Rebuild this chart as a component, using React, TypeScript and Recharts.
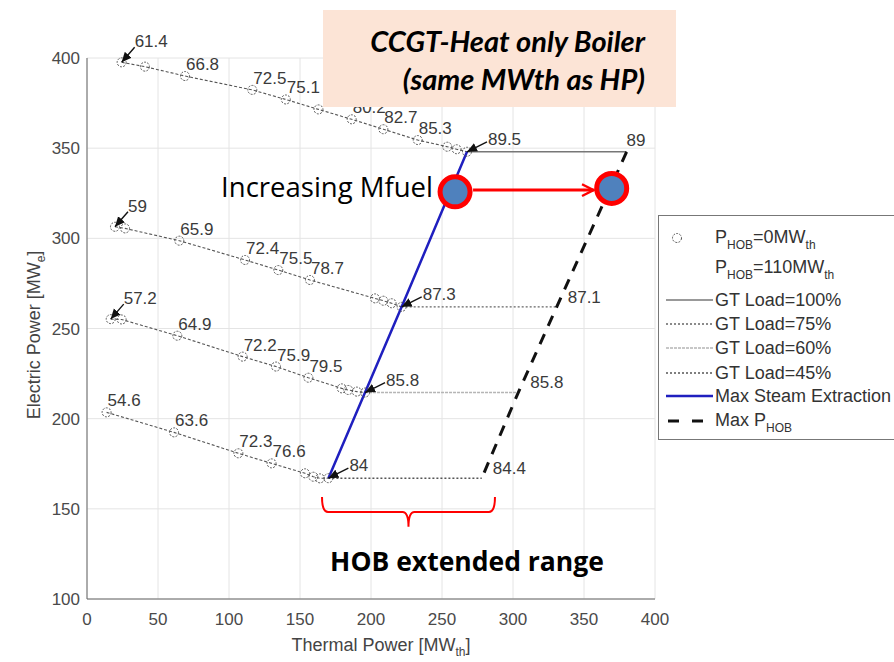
import React from 'react';
import {
  ComposedChart, Line, XAxis, YAxis, CartesianGrid,
  ReferenceDot, ReferenceLine, ReferenceArea,
} from 'recharts';

const FONT = '"Liberation Sans", Arial, sans-serif';

const xTicks = [0, 50, 100, 150, 200, 250, 300, 350, 400];
const yTicks = [100, 150, 200, 250, 300, 350, 400];

// P_HOB = 0 operating curves: thermal [MWth], electric [MWe], efficiency label
const gt100Th = [24.4, 40.8, 69, 116.4, 140, 163, 186.4, 208.7, 232.9, 253.7, 260.3, 267.6];
const gt100El = [397.6, 395.2, 390, 382.3, 377, 371.5, 366, 360.5, 354.5, 350.8, 349.4, 348];
const gt100Lbl = ['61.4', '', '66.8', '72.5', '75.1', '', '80.2', '82.7', '85.3', '', '', '89.5'];

const gt75Th = [19.7, 26.8, 65, 111.3, 134.7, 157, 202.8, 208.7, 214.5, 221.6];
const gt75El = [306.4, 305.5, 298.7, 288, 282.4, 276.9, 266.7, 265.4, 264, 262];
const gt75Lbl = ['59', '', '65.9', '72.4', '75.5', '78.7', '', '', '', '87.3'];

const gt60Th = [16.7, 24.4, 63.6, 109.6, 133.1, 155.9, 179.4, 184, 190, 195.8];
const gt60El = [255.2, 255, 246, 234.4, 228.9, 222.7, 216.8, 215.9, 215, 214.5];
const gt60Lbl = ['57.2', '', '64.9', '72.2', '75.9', '79.5', '', '', '', '85.8'];

const gt45Th = [13.8, 61.3, 106.6, 130, 153.5, 159.4, 164, 170];
const gt45El = [203.5, 192.4, 180.8, 175.2, 169.7, 167.8, 166.9, 167];
const gt45Lbl = ['54.6', '63.6', '72.3', '76.6', '', '', '', '84'];

// HOB lines (P_HOB = 0 -> 110 MWth), order: GT 100, 75, 60, 45 %
const hobTh0 = [267.6, 221.6, 195.8, 170];
const hobTh110 = [380, 330.8, 303.7, 278];
const hobEl = [348, 262, 214.5, 167];
const hobLbl = ['89', '87.1', '85.8', '84.4'];

// annotation markers (increasing fuel)
const fuelTh = [259.2, 369.5];
const fuelEl = [325.8, 327.7];
const rangeTh = [165.5, 287.3];
const rangeEl = [140, 156.5];

const pts = (th: number[], el: number[], lbl?: string[]) =>
  th.map((x, i) => ({ x, y: el[i], label: lbl ? lbl[i] : '' }));

const curves = [
  { id: 'c100', data: pts(gt100Th, gt100El, gt100Lbl), firstArrow: true },
  { id: 'c75', data: pts(gt75Th, gt75El, gt75Lbl), firstArrow: true },
  { id: 'c60', data: pts(gt60Th, gt60El, gt60Lbl), firstArrow: true },
  { id: 'c45', data: pts(gt45Th, gt45El, gt45Lbl), firstArrow: false },
];

const hobStyles = [
  { stroke: '#777', dash: undefined, width: 1.6, dx: 0, dy: -6 },
  { stroke: '#666', dash: '2 2', width: 1.4, dx: 11, dy: -4 },
  { stroke: '#b5b5b5', dash: '3 1', width: 1.6, dx: 12, dy: -5 },
  { stroke: '#555', dash: '2 2', width: 1.4, dx: 11, dy: -4 },
];

const hobLines = hobEl.map((y, i) => [
  { x: hobTh0[i], y, label: '' },
  { x: hobTh110[i], y, label: hobLbl[i] },
]);

const steamLine = pts(hobTh0, hobEl);
const maxHobLine = pts(hobTh110, hobEl);

const curveDot = (n: number, firstArrow: boolean) => (p: any) => {
  const { cx, cy, index, payload } = p;
  const lbl = payload && payload.label;
  let tx = cx + 1, ty = cy - 6;
  let arrow: number[] | null = null;
  if (index === 0 && firstArrow) { tx = cx + 13; ty = cy - 15; arrow = [cx + 13, cy - 15]; }
  if (index === n - 1) { tx = cx + 21; ty = cy - 7; arrow = [cx + 20, cy - 10]; }
  return (
    <g key={`d${index}`}>
      <circle cx={cx} cy={cy} r={4.5} fill="none" stroke="#555" strokeWidth={1} strokeDasharray="2 1.3" />
      {arrow && lbl ? (
        <line x1={arrow[0]} y1={arrow[1]} x2={cx} y2={cy} stroke="#111" strokeWidth={1.4} markerEnd="url(#tipArrow)" />
      ) : null}
      {lbl ? (
        <text x={tx} y={ty} fontSize={17} fill="#3a3a3a" fontFamily={FONT}>{lbl}</text>
      ) : null}
    </g>
  );
};

const hobDot = (dx: number, dy: number) => (p: any) => {
  const { cx, cy, index, payload } = p;
  if (!payload || !payload.label) return <g key={`h${index}`} />;
  return (
    <text key={`h${index}`} x={cx + dx} y={cy + dy} fontSize={17} fill="#3a3a3a" fontFamily={FONT}>{payload.label}</text>
  );
};

const fuelArrow = (p: any) => {
  const { x1, y1, x2, y2 } = p;
  return <line x1={x1 + 18} y1={y1} x2={x2 - 18} y2={y2} stroke="#ff0000" strokeWidth={3} markerEnd="url(#redArrow)" />;
};

const brace = (p: any) => {
  const { x, y, width, height } = p;
  const x2 = x + width;
  const cx = x + width / 2;
  const mid = y + height * 0.5;
  const bot = y + height;
  const d = `M${x},${y} Q${x},${mid} ${x + 6},${mid} L${cx - 6},${mid} Q${cx},${mid} ${cx},${bot} Q${cx},${mid} ${cx + 6},${mid} L${x2 - 6},${mid} Q${x2},${mid} ${x2},${y}`;
  return <path d={d} fill="none" stroke="#ff0000" strokeWidth={2} />;
};

const Sub = ({ children }: { children: React.ReactNode }) => (
  <span style={{ fontSize: 12, position: 'relative', top: 6 }}>{children}</span>
);

const legendRows: { top: number; sample: React.ReactNode; text: React.ReactNode }[] = [
  {
    top: 22,
    sample: <circle cx={14} cy={10} r={4.5} fill="none" stroke="#555" strokeDasharray="2 1.3" />,
    text: <>P<Sub>HOB</Sub>=0MW<Sub>th</Sub></>,
  },
  { top: 52, sample: null, text: <>P<Sub>HOB</Sub>=110MW<Sub>th</Sub></> },
  { top: 84, sample: <line x1={3} y1={10} x2={50} y2={10} stroke="#777" strokeWidth={1.6} />, text: 'GT Load=100%' },
  { top: 108, sample: <line x1={3} y1={10} x2={50} y2={10} stroke="#666" strokeWidth={1.4} strokeDasharray="2 2" />, text: 'GT Load=75%' },
  { top: 132, sample: <line x1={3} y1={10} x2={50} y2={10} stroke="#b5b5b5" strokeWidth={1.6} strokeDasharray="3 1" />, text: 'GT Load=60%' },
  { top: 157, sample: <line x1={3} y1={10} x2={50} y2={10} stroke="#555" strokeWidth={1.4} strokeDasharray="2 2" />, text: 'GT Load=45%' },
  { top: 180, sample: <line x1={3} y1={10} x2={50} y2={10} stroke="#1f1fbf" strokeWidth={2.5} />, text: 'Max Steam Extraction' },
  { top: 205, sample: <line x1={5} y1={10} x2={50} y2={10} stroke="#111" strokeWidth={3} strokeDasharray="11 13" />, text: <>Max P<Sub>HOB</Sub></> },
];

export default function App() {
  return (
    <div style={{ position: 'absolute', left: 0, top: 0, width: 894, height: 662, overflow: 'hidden', background: '#fff' }}>
      <svg width={0} height={0} style={{ position: 'absolute' }}>
        <defs>
          <marker id="tipArrow" viewBox="0 0 10 10" refX="10" refY="5" markerWidth="10" markerHeight="10" markerUnits="userSpaceOnUse" orient="auto">
            <path d="M0,0.5 L10,5 L0,9.5 z" fill="#111" />
          </marker>
          <marker id="redArrow" viewBox="0 0 12 12" refX="11" refY="6" markerWidth="14" markerHeight="14" markerUnits="userSpaceOnUse" orient="auto">
            <path d="M1,1 L11,6 L1,11" fill="none" stroke="#ff0000" strokeWidth={2} />
          </marker>
        </defs>
      </svg>
      <ComposedChart width={894} height={662} margin={{ top: 58, right: 239, bottom: 0, left: 27 }}>
        <CartesianGrid stroke="#e4e4e4" />
        <XAxis
          type="number" dataKey="x" domain={[0, 400]} ticks={xTicks} height={63}
          axisLine={{ stroke: '#666' }} tickLine={false} tickMargin={8}
          tick={{ fill: '#4a4a4a', fontSize: 17, fontFamily: FONT }}
        />
        <YAxis
          type="number" domain={[100, 400]} ticks={yTicks} width={60}
          axisLine={{ stroke: '#666' }} tickLine={false} tickMargin={1}
          tick={{ fill: '#4a4a4a', fontSize: 17, fontFamily: FONT }}
        />
        <ReferenceLine
          segment={[{ x: fuelTh[0], y: (fuelEl[0] + fuelEl[1]) / 2 }, { x: fuelTh[1], y: (fuelEl[0] + fuelEl[1]) / 2 }]}
          shape={fuelArrow}
        />
        {hobLines.map((d, i) => (
          <Line
            key={`hob${i}`} data={d} dataKey="y" type="linear"
            stroke={hobStyles[i].stroke} strokeWidth={hobStyles[i].width} strokeDasharray={hobStyles[i].dash}
            dot={hobDot(hobStyles[i].dx, hobStyles[i].dy)} activeDot={false} isAnimationActive={false}
          />
        ))}
        {curves.map((c) => (
          <Line
            key={c.id} data={c.data} dataKey="y" type="linear"
            stroke="#555" strokeWidth={1.1} strokeDasharray="3 2"
            dot={curveDot(c.data.length, c.firstArrow)} activeDot={false} isAnimationActive={false}
          />
        ))}
        <Line data={steamLine} dataKey="y" type="linear" stroke="#1f1fbf" strokeWidth={2.5} dot={false} activeDot={false} isAnimationActive={false} />
        <Line data={maxHobLine} dataKey="y" type="linear" stroke="#111" strokeWidth={3} strokeDasharray="11 9" dot={false} activeDot={false} isAnimationActive={false} />
        <ReferenceDot x={fuelTh[0]} y={fuelEl[0]} r={15} fill="#4f81bd" stroke="#ff0000" strokeWidth={5} />
        <ReferenceDot x={fuelTh[1]} y={fuelEl[1]} r={15} fill="#4f81bd" stroke="#ff0000" strokeWidth={5} />
        <ReferenceArea x1={rangeTh[0]} x2={rangeTh[1]} y1={rangeEl[0]} y2={rangeEl[1]} shape={brace} />
      </ComposedChart>

      <svg width={894} height={662} style={{ position: 'absolute', left: 0, top: 0, pointerEvents: 'none' }}>
        <text x={381} y={651} textAnchor="middle" fontSize={18} fill="#444" fontFamily={FONT}>
          Thermal Power [MW<tspan fontSize={12} dy={5}>th</tspan><tspan dy={-5}>]</tspan>
        </text>
        <text transform="translate(40,335) rotate(-90)" textAnchor="middle" fontSize={18} fill="#444" fontFamily={FONT}>
          Electric Power [MW<tspan fontSize={12} dy={5}>e</tspan><tspan dy={-5}>]</tspan>
        </text>
        <text x={433} y={197} textAnchor="end" fontSize={27.5} fill="#000" fontFamily='"Open Sans", sans-serif'>Increasing Mfuel</text>
        <text x={467} y={571} textAnchor="middle" fontSize={26.5} fontWeight="bold" fill="#000" fontFamily='"Open Sans", sans-serif'>HOB extended range</text>
      </svg>

      <div style={{
        position: 'absolute', left: 323, top: 10, width: 353, height: 97, background: '#fce4d6',
        boxSizing: 'border-box', paddingTop: 12, paddingRight: 31, textAlign: 'right',
        fontFamily: 'Lato, sans-serif', fontWeight: 700, fontStyle: 'italic', fontSize: 29, lineHeight: '38px', color: '#000',
      }}>
        <div>CCGT-Heat only Boiler</div>
        <div>(same MWth as HP)</div>
      </div>

      <div style={{
        position: 'absolute', left: 658, top: 215, width: 260, height: 225, background: '#fff',
        border: '1px solid #777', boxSizing: 'border-box', fontFamily: FONT, fontSize: 18, color: '#333',
      }}>
        {legendRows.map((r, i) => (
          <div key={i} style={{ position: 'absolute', left: 4, top: r.top - 11, height: 22, display: 'flex', alignItems: 'center', whiteSpace: 'nowrap' }}>
            <svg width={52} height={20} style={{ flex: 'none' }}>{r.sample}</svg>
            <span style={{ lineHeight: '22px' }}>{r.text}</span>
          </div>
        ))}
      </div>
    </div>
  );
}
